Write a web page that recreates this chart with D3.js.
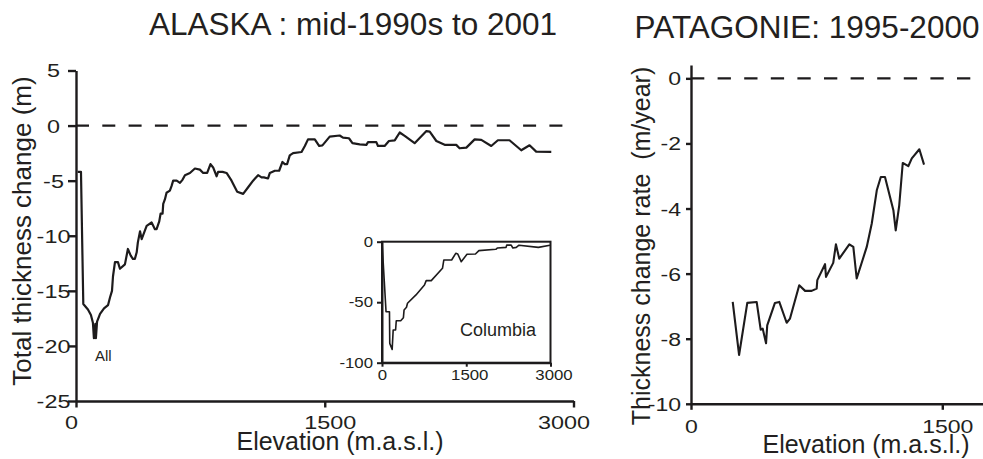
<!DOCTYPE html>
<html>
<head>
<meta charset="utf-8">
<script src="https://cdn.jsdelivr.net/npm/d3@7"></script>
<style>
  html, body { margin: 0; padding: 0; background: #fff; }
  svg { display: block; font-family: "Liberation Sans", Arial, Helvetica, sans-serif; }
  text { fill: #231f20; }
</style>
</head>
<body>
<svg id="chart" width="983" height="459"></svg>
<script>
// ---------- DATA ----------
// Alaska, all glaciers: elevation (m) and total thickness change (m)
const alaskaElev = [10, 30, 44, 72, 90, 102, 108, 117, 120, 127, 145, 169, 193, 205, 217, 223, 235, 253, 265, 295,
  313, 330, 343, 355, 366, 373, 386, 396, 426, 456, 476, 486, 502, 510, 522, 526, 536, 546, 566, 576,
  586, 607, 627, 643, 657, 687, 717, 747, 767, 791, 811, 827, 848, 857, 884, 908, 938, 958, 972, 1008,
  1038, 1068, 1098, 1119, 1133, 1158, 1169, 1199, 1225, 1245, 1259, 1273, 1289, 1309, 1360, 1380, 1399, 1440, 1466, 1486,
  1530, 1590, 1610, 1646, 1667, 1711, 1751, 1761, 1811, 1821, 1861, 1887, 1922, 1952, 1982, 2042, 2113, 2133, 2173, 2223,
  2293, 2313, 2354, 2404, 2444, 2504, 2544, 2614, 2685, 2735, 2775, 2866];
const alaskaVals = [-4.2, -4.2, -16.2, -16.7, -17.2, -17.9, -19.3, -18.0, -19.3, -17.8, -17.1, -16.6, -16.3, -15.6, -15.0, -13.7, -12.4, -12.4, -13.0, -12.6,
  -11.2, -11.8, -12.1, -12.1, -11.5, -10.6, -9.6, -10.3, -9.1, -8.8, -9.4, -9.4, -8.7, -8.0, -8.0, -7.1, -6.7, -6.1, -5.9, -5.5,
  -5.0, -5.0, -5.2, -4.9, -4.5, -4.3, -3.9, -4.0, -4.3, -4.3, -3.5, -3.8, -4.6, -4.2, -4.2, -4.3, -5.0, -5.6, -6.0, -6.2,
  -5.6, -5.0, -4.5, -4.7, -4.7, -4.8, -4.3, -4.1, -4.1, -3.3, -3.5, -3.5, -2.7, -2.5, -2.4, -1.85, -1.25, -1.25, -1.85, -1.8,
  -1.0, -0.9, -1.1, -1.15, -1.6, -1.7, -1.75, -1.5, -1.5, -1.85, -1.85, -1.4, -1.35, -0.63, -0.94, -1.6, -0.5, -0.55, -1.4, -1.75,
  -1.75, -2.06, -2.0, -1.25, -1.3, -1.85, -1.33, -1.33, -2.24, -1.79, -2.36, -2.39];

// Columbia glacier (inset)
const columbiaElev = [0, 72, 133, 138, 181, 199, 242, 254, 333, 381, 393, 436, 454, 605, 756, 787, 877, 1077, 1101, 1240,
  1313, 1349, 1410, 1513, 1664, 1725, 2027, 2057, 2209, 2221, 2300, 2330, 2391, 2439, 2784, 2990];
const columbiaVals = [0, -57.9, -57.9, -84, -89, -73, -73, -65.3, -65.3, -62.8, -56.4, -54.2, -50.9, -44, -35.8, -32.2, -32.2, -22, -15.1, -15.1,
  -9.6, -10.2, -16.5, -10.4, -10.2, -7.4, -6.3, -5.2, -4.7, -2.8, -2.8, -5.2, -4.7, -2.9, -4.7, -2.9];

// Patagonia: elevation (m) and thickness change rate (m/year)
const patElev = [249, 287, 336, 392, 416, 428, 448, 455, 501, 527, 571, 591, 646, 681, 720, 750, 754, 800, 806, 849,
  865, 885, 945, 969, 989, 1049, 1079, 1109, 1133, 1158, 1208, 1222, 1243, 1264, 1297, 1318, 1363, 1391];
const patVals = [-6.87, -8.5, -6.9, -6.87, -7.72, -7.69, -8.14, -7.59, -6.9, -6.87, -7.51, -7.38, -6.36, -6.53, -6.53, -6.46, -6.2, -5.71, -6.1, -5.67,
  -5.1, -5.54, -5.1, -5.18, -6.15, -5.18, -4.46, -3.44, -3.03, -3.03, -4.05, -4.67, -3.9, -2.6, -2.7, -2.46, -2.18, -2.65];

// Ticks and labels
const alaskaYTicks = [5, 0, -5, -10, -15, -20, -25];
const alaskaXTicks = [0, 1500, 3000];
const insetYTicks = [0, -50, -100];
const insetXTicks = [0, 1500, 3000];
const patYTicks = [0, -2, -4, -6, -8, -10];
const patXTicks = [0, 1500];
const titles = ["ALASKA : mid-1990s to 2001", "PATAGONIE: 1995-2000"];
const yTitles = ["Total thickness change (m)", "Thickness change rate  (m/year)"];
const xTitle = "Elevation (m.a.s.l.)";
const seriesLabels = ["All", "Columbia"];

// ---------- DRAWING ----------
const svg = d3.select("#chart");
const INK = "#1d1b1c";
const fmt = d => String(d);   // plain "-10", "1500"

function stretch(sel, k) {
  sel.each(function () {
    const w = this.getComputedTextLength();
    this.setAttribute("textLength", w * k);
    this.setAttribute("lengthAdjust", "spacingAndGlyphs");
  });
}
function styleAxis(g, fs, sw) {
  g.selectAll("path.domain").attr("stroke", INK).attr("stroke-width", sw);
  g.selectAll(".tick line").attr("stroke", INK).attr("stroke-width", sw);
  g.selectAll(".tick text").attr("font-size", fs).attr("fill", "#231f20")
    .attr("font-family", "'Liberation Sans', Arial, sans-serif");
}

// ===== Left panel: Alaska =====
const xA = d3.scaleLinear().domain([0, 3000]).range([76, 573.5]);
const yA = d3.scaleLinear().domain([-25, 5]).range([401, 70.5]);

svg.append("line")
  .attr("x1", xA(0)).attr("x2", xA(3000)).attr("y1", yA(0)).attr("y2", yA(0))
  .attr("stroke", INK).attr("stroke-width", 2.4).attr("stroke-dasharray", "13,13.3");

const gAy = svg.append("g").attr("transform", `translate(${xA(0)},0)`)
  .call(d3.axisLeft(yA).tickValues(alaskaYTicks).tickFormat(fmt).tickSize(8).tickSizeOuter(0).tickPadding(8));
styleAxis(gAy, 18, 2.4);
gAy.selectAll(".tick text").attr("text-anchor", "middle").attr("x", -22.5).attr("dy", "0.36em");
stretch(gAy.selectAll(".tick text"), 1.3);

const gAx = svg.append("g").attr("transform", `translate(0,${yA(-25)})`)
  .call(d3.axisBottom(xA).tickValues(alaskaXTicks).tickFormat(fmt).tickSize(6.5).tickSizeOuter(0).tickPadding(9));
styleAxis(gAx, 18, 2.4);
gAx.selectAll(".tick text").attr("dx", d => d === 0 ? -5 : (d === 3000 ? -10 : 5));
stretch(gAx.selectAll(".tick text"), 1.3);

const lineA = d3.line().x((d, i) => xA(alaskaElev[i])).y(d => yA(d));
svg.append("path").datum(alaskaVals)
  .attr("d", lineA).attr("fill", "none").attr("stroke", INK).attr("stroke-width", 2.2)
  .attr("stroke-linejoin", "round");

svg.append("text").attr("x", 95).attr("y", 360.5).attr("font-size", 15).text(seriesLabels[0]);

// Inset: Columbia
const xI = d3.scaleLinear().domain([0, 3000]).range([382, 550.5]);
const yI = d3.scaleLinear().domain([-100, 0]).range([362.7, 241.7]);
svg.append("rect")
  .attr("x", xI(0)).attr("y", yI(0)).attr("width", xI(3000) - xI(0)).attr("height", yI(-100) - yI(0))
  .attr("fill", "none").attr("stroke", INK).attr("stroke-width", 2);

const gIy = svg.append("g").attr("transform", `translate(${xI(0)},0)`)
  .call(d3.axisLeft(yI).tickValues(insetYTicks).tickFormat(fmt).tickSize(5).tickSizeOuter(0).tickPadding(4));
styleAxis(gIy, 14, 2);
stretch(gIy.selectAll(".tick text"), 1.2);

const gIx = svg.append("g").attr("transform", `translate(0,${yI(-100)})`)
  .call(d3.axisBottom(xI).tickValues(insetXTicks).tickFormat(fmt).tickSize(4).tickSizeOuter(0).tickPadding(3.5));
styleAxis(gIx, 14, 2);
gIx.selectAll(".tick text").attr("dx", d => d === 0 ? 0 : 3);
stretch(gIx.selectAll(".tick text"), 1.2);

const lineI = d3.line().x((d, i) => xI(columbiaElev[i])).y(d => yI(d));
svg.append("path").datum(columbiaVals)
  .attr("d", lineI).attr("fill", "none").attr("stroke", INK).attr("stroke-width", 1.6)
  .attr("stroke-linejoin", "round");

svg.append("text").attr("x", 460).attr("y", 336).attr("font-size", 18).text(seriesLabels[1]);

// Titles / axis titles (left)
svg.append("text").attr("x", 353).attr("y", 35).attr("text-anchor", "middle")
  .attr("font-size", 31.5).text(titles[0]);
svg.append("text").attr("transform", "translate(31,231) rotate(-90)").attr("text-anchor", "middle")
  .attr("font-size", 26).text(yTitles[0]);
svg.append("text").attr("x", 340).attr("y", 450).attr("text-anchor", "middle")
  .attr("font-size", 25).text(xTitle);

// ===== Right panel: Patagonia =====
const xP = d3.scaleLinear().domain([0, 1743]).range([691, 983]);
const yP = d3.scaleLinear().domain([-10, 0.41]).range([403.8, 65]);

svg.append("line")
  .attr("x1", xP(0)).attr("x2", 983).attr("y1", yP(0)).attr("y2", yP(0))
  .attr("stroke", INK).attr("stroke-width", 2.4).attr("stroke-dasharray", "13.3,13.3");

const gPy = svg.append("g").attr("transform", `translate(${xP(0)},0)`)
  .call(d3.axisLeft(yP).tickValues(patYTicks).tickFormat(fmt).tickSize(5).tickSizeOuter(0).tickPadding(5));
styleAxis(gPy, 18, 2.4);
gPy.selectAll(".tick text").attr("dy", "0.36em");
stretch(gPy.selectAll(".tick text"), 1.28);

const gPx = svg.append("g").attr("transform", `translate(0,${yP(-10)})`)
  .call(d3.axisBottom(xP).tickValues(patXTicks).tickFormat(fmt).tickSize(6).tickSizeOuter(0).tickPadding(10));
styleAxis(gPx, 18, 2.4);
gPx.selectAll(".tick text").attr("dx", d => d === 0 ? 0 : 5);
stretch(gPx.selectAll(".tick text"), 1.28);

const lineP = d3.line().x((d, i) => xP(patElev[i])).y(d => yP(d));
svg.append("path").datum(patVals)
  .attr("d", lineP).attr("fill", "none").attr("stroke", INK).attr("stroke-width", 2.1)
  .attr("stroke-linejoin", "round");

svg.append("text").attr("x", 807).attr("y", 38).attr("text-anchor", "middle")
  .attr("font-size", 31.5).text(titles[1]);
svg.append("text").attr("transform", "translate(650,246) rotate(-90)").attr("text-anchor", "middle")
  .attr("font-size", 25).style("white-space", "pre").text(yTitles[1]);
svg.append("text").attr("x", 866).attr("y", 453).attr("text-anchor", "middle")
  .attr("font-size", 25).text(xTitle);
</script>
</body>
</html>
